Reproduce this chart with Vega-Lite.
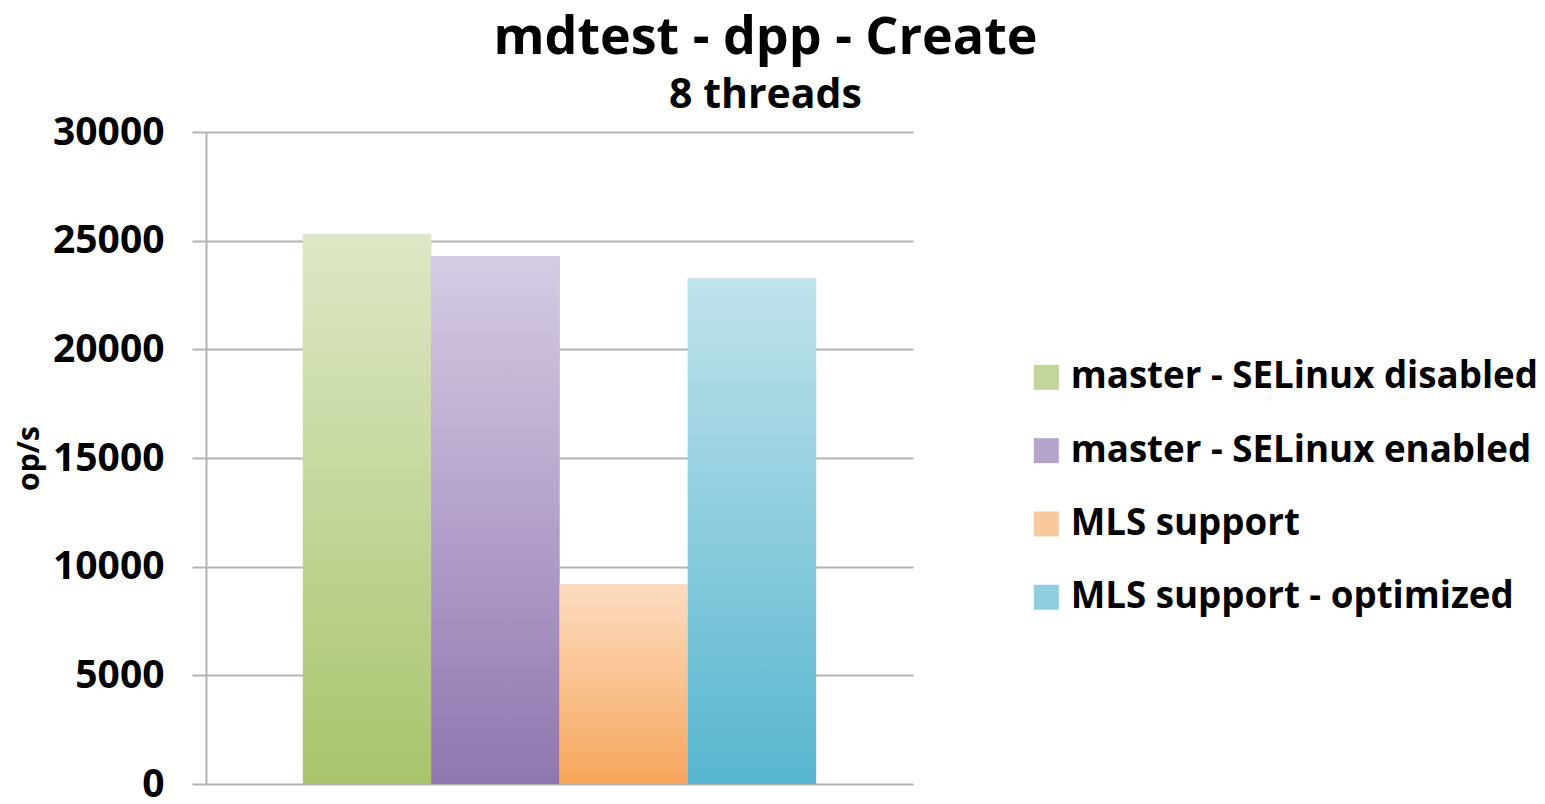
{
  "$schema": "https://vega.github.io/schema/vega-lite/v6.json",
  "width": 707,
  "height": 652,
  "autosize": {"type": "none"},
  "padding": {"left": 206, "top": 132, "right": 632, "bottom": 20},
  "background": "white",
  "title": {
    "text": "mdtest - dpp - Create",
    "subtitle": "8 threads",
    "anchor": "middle",
    "frame": "group",
    "dx": 206,
    "dy": 12,
    "font": "Open Sans",
    "fontSize": 52,
    "fontWeight": "bold",
    "color": "#000000",
    "subtitleFont": "Open Sans",
    "subtitleFontSize": 41,
    "subtitleFontWeight": "bold",
    "subtitleColor": "#000000",
    "subtitlePadding": 11,
    "offset": 8
  },
  "data": {
    "values": [
      {"series": "master - SELinux disabled", "ops": 25300},
      {"series": "master - SELinux enabled", "ops": 24300},
      {"series": "MLS support", "ops": 9200},
      {"series": "MLS support - optimized", "ops": 23260}
    ]
  },
  "encoding": {
    "x": {
      "field": "series",
      "type": "nominal",
      "sort": null,
      "axis": null,
      "scale": {"paddingInner": 0, "paddingOuter": 0.755}
    },
    "y": {
      "field": "ops",
      "type": "quantitative",
      "scale": {"domain": [0, 30000], "nice": false},
      "axis": {
        "values": [0, 5000, 10000, 15000, 20000, 25000, 30000],
        "format": "d",
        "title": "op/s",
        "titleFont": "Open Sans",
        "titleFontSize": 30,
        "titleFontWeight": "bold",
        "titleColor": "#000000",
        "titlePadding": 8,
        "labelFont": "Open Sans",
        "labelFontSize": 39,
        "labelFontWeight": "bold",
        "labelColor": "#000000",
        "labelPadding": 28,
        "domainColor": "#b3b3b3",
        "domainWidth": 2,
        "tickColor": "#b3b3b3",
        "tickWidth": 2,
        "tickSize": 14,
        "gridColor": "#b3b3b3",
        "gridWidth": 2,
        "grid": true
      }
    }
  },
  "layer": [
    {
      "mark": {"type": "bar"},
      "encoding": {
        "color": {
          "field": "series",
          "type": "nominal",
          "sort": null,
          "scale": {
            "domain": ["master - SELinux disabled", "master - SELinux enabled", "MLS support", "MLS support - optimized"],
            "range": ["#c2d69b", "#b5a5cd", "#f9c79c", "#8fcde0"]
          },
          "legend": {
            "title": null,
            "orient": "none",
            "legendX": 822,
            "legendY": 227,
            "padding": 0,
            "symbolType": "square",
            "symbolSize": 625,
            "symbolStrokeWidth": 0,
            "symbolOpacity": 1,
            "labelFont": "Open Sans",
            "labelFontSize": 36.7,
            "labelFontWeight": "bold",
            "labelColor": "#000000",
            "labelOffset": 6,
            "labelLimit": 600,
            "rowPadding": 35.3
          }
        }
      }
    },
    {
      "mark": {"type": "bar"},
      "encoding": {
        "color": {
          "condition": [
            {"test": "datum.series === 'master - SELinux disabled'", "value": {"gradient": "linear", "x1": 0, "y1": 0, "x2": 0, "y2": 1, "stops": [{"offset": 0, "color": "#dde7c6"}, {"offset": 1, "color": "#a9c46c"}]}},
            {"test": "datum.series === 'master - SELinux enabled'", "value": {"gradient": "linear", "x1": 0, "y1": 0, "x2": 0, "y2": 1, "stops": [{"offset": 0, "color": "#d5cce3"}, {"offset": 1, "color": "#9076b0"}]}},
            {"test": "datum.series === 'MLS support'", "value": {"gradient": "linear", "x1": 0, "y1": 0, "x2": 0, "y2": 1, "stops": [{"offset": 0, "color": "#fcdcc2"}, {"offset": 1, "color": "#f6a65b"}]}}
          ],
          "value": {"gradient": "linear", "x1": 0, "y1": 0, "x2": 0, "y2": 1, "stops": [{"offset": 0, "color": "#c0e2eb"}, {"offset": 1, "color": "#57b6cf"}]}
        }
      }
    }
  ],
  "config": {
    "view": {"stroke": null},
    "font": "Open Sans"
  }
}
